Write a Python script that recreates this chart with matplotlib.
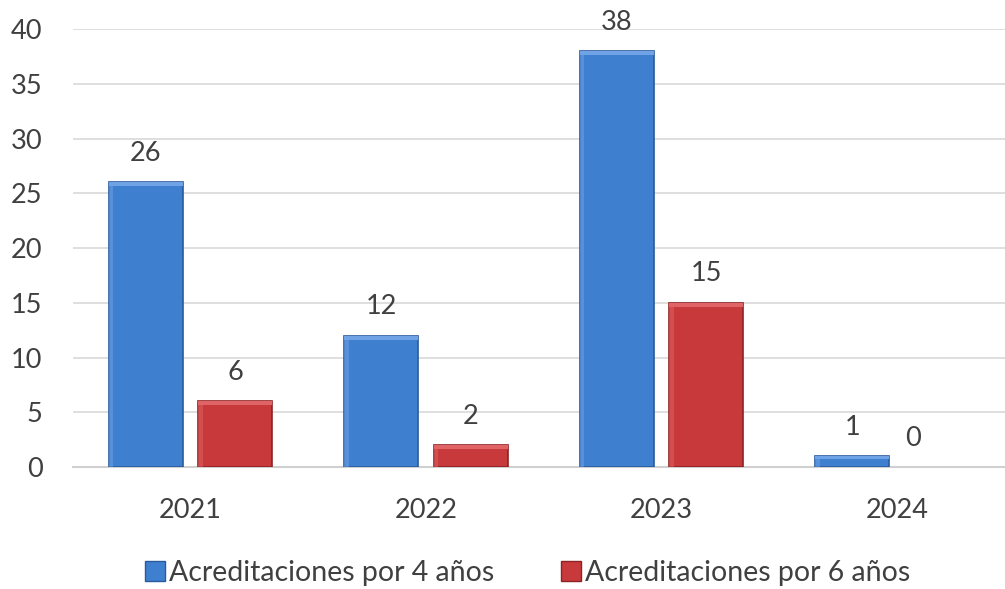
import numpy as np
import matplotlib
matplotlib.use('Agg')
import matplotlib.pyplot as plt
from matplotlib.patches import Rectangle

plt.rcParams['font.family'] = ['Lato', 'DejaVu Sans']

years = ['2021', '2022', '2023', '2024']
acred_4 = [26, 12, 38, 1]
acred_6 = [6, 2, 15, 0]
series_names = ['Acreditaciones por 4 años', 'Acreditaciones por 6 años']

blue = '#3f7fd0'
blue_dark = '#2a5a9c'
red = '#c8393b'
red_dark = '#8e2224'
txt = '#404040'
fs = 19.5

fig = plt.figure(figsize=(10.05, 5.89), dpi=100)
ax = fig.add_axes([0.0726, 0.207, 0.93, 0.7436])

x = np.arange(len(years))
w = 0.314
off = 0.19

b1 = ax.bar(x - off, acred_4, w, color=blue, edgecolor=blue_dark, linewidth=1.2, zorder=3)
b2 = ax.bar(x + off, acred_6, w, color=red, edgecolor=red_dark, linewidth=1.2, zorder=3)

# bevel-ish highlight on top of each bar
for bars, light in [(b1, '#6fa3e6'), (b2, '#e06466')]:
    for r in bars:
        h = r.get_height()
        if h <= 0:
            r.set_visible(False)
            continue
        bh = min(0.35, h * 0.3)
        ax.add_patch(Rectangle((r.get_x(), h - bh), r.get_width(), bh,
                               color=light, zorder=4, linewidth=0))
        ax.add_patch(Rectangle((r.get_x(), 0), r.get_width() * 0.06, h,
                               color=light, alpha=0.5, zorder=4, linewidth=0))

for xs, vals in [(x - off, acred_4), (x + off, acred_6)]:
    for xi, v in zip(xs, vals):
        if v == 0:
            xi -= 0.12  # zero label sits a little left
        ax.text(xi, v + 1.5, str(v), ha='center', va='bottom', fontsize=fs, color=txt)

ax.set_ylim(0, 40)
ax.set_xlim(-0.5, 3.47)
ax.set_yticks(range(0, 41, 5))
ax.set_xticks(x)
ax.set_xticklabels(years)
ax.tick_params(axis='both', length=0, labelsize=fs, labelcolor=txt)
ax.tick_params(axis='x', pad=22)
ax.tick_params(axis='y', pad=22)
ax.grid(axis='y', color='#d9d9d9', linewidth=1.2, zorder=0)
for s in ['top', 'right', 'left']:
    ax.spines[s].set_visible(False)
ax.spines['bottom'].set_color('#d0d0d0')
ax.spines['bottom'].set_linewidth(1.5)

h1 = plt.Line2D([], [], marker='s', linestyle='none', markersize=14,
                markerfacecolor=blue, markeredgecolor=blue_dark)
h2 = plt.Line2D([], [], marker='s', linestyle='none', markersize=14,
                markerfacecolor=red, markeredgecolor=red_dark)
fig.legend([h1, h2], series_names, loc='center', bbox_to_anchor=(0.523, 0.028),
           ncol=2, frameon=False, fontsize=20.5, labelcolor=txt,
           handletextpad=0.0, columnspacing=2.2, handlelength=1.0)

fig.savefig('out.png', dpi=100)
